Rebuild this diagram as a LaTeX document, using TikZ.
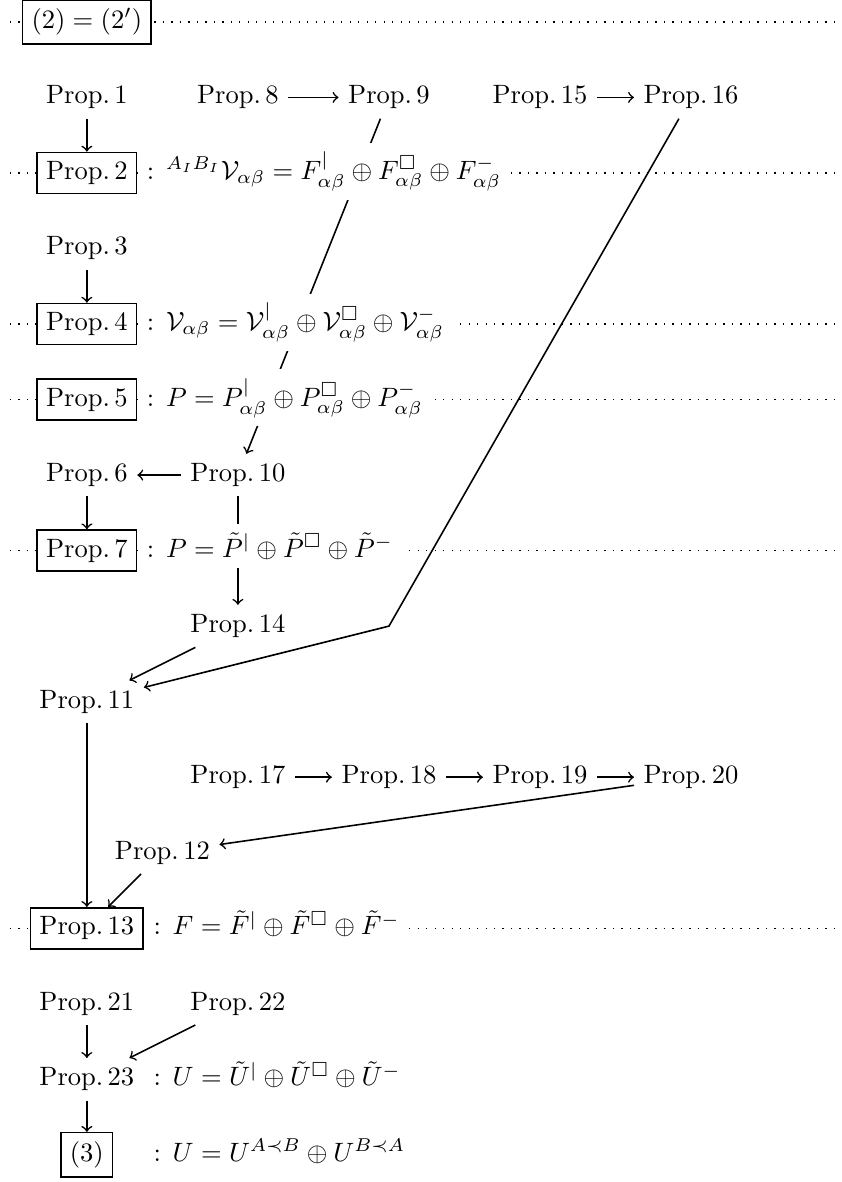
\documentclass[tikz,border=0pt]{standalone}
\usepackage{amsmath,amssymb}
\begin{document}
\begin{tikzpicture}[>=to,semithick,
    propbox/.style={draw,fill=white},
    formula/.style={anchor=base west,fill=white},
    dotline/.style={line width=0.5pt,dash pattern=on 0.5pt off 2.7pt}]
    \useasboundingbox (-1.15,0.29) rectangle (9.99,-15.36);
    % dotted rows
    \foreach \r in {0,2,4,5,7,12}
    {
        \draw[dotline](-1.02,-\r)--(9.99,-\r);
    }
    \node[propbox] (eq2) at (0,0) {$(2)=(2')$};
    \node (p1) at (0,-1) {Prop.\,1};
    \node (p8) at (2,-1) {Prop.\,8};
    \node (p9) at (4,-1) {Prop.\,9};
    \node (p15) at (6,-1) {Prop.\,15};
    \node (p16) at (8,-1) {Prop.\,16};
    \node[propbox] (p2) at (0,-2) {Prop.\,2};
    \node (p3) at (0,-3) {Prop.\,3};
    \node[propbox] (p4) at (0,-4) {Prop.\,4};
    \node[propbox] (p5) at (0,-5) {Prop.\,5};
    \node (p6) at (0,-6) {Prop.\,6};
    \node (p10) at (2,-6) {Prop.\,10};
    \node[propbox] (p7) at (0,-7) {Prop.\,7};
    \node (p14) at (2,-8) {Prop.\,14};
    \coordinate (kink) at (4,-8);
    \node (p11) at (0,-9) {Prop.\,11};
    \node (p17) at (2,-10) {Prop.\,17};
    \node (p18) at (4,-10) {Prop.\,18};
    \node (p19) at (6,-10) {Prop.\,19};
    \node (p20) at (8,-10) {Prop.\,20};
    \node (p12) at (1,-11) {Prop.\,12};
    \node[propbox] (p13) at (0,-12) {Prop.\,13};
    \node (p21) at (0,-13) {Prop.\,21};
    \node (p22) at (2,-13) {Prop.\,22};
    \node (p23) at (0,-14) {Prop.\,23};
    \node[propbox] (eq3) at (0,-15) {$(3)$};
    % these two run behind the formulas
    \draw[->](p9)--(p10);
    \draw[->](p10)--(p14);
    \node[formula] (f2) at (p2.base east) {: ${}^{A_I B_I}\mathcal{V}_{\alpha\beta}=F^{|}_{\alpha\beta}\oplus F^{\square}_{\alpha\beta}\oplus F^{-}_{\alpha\beta}$};
    \node[formula] (f4) at (p4.base east) {: $\mathcal{V}_{\alpha\beta}=\mathcal{V}^{|}_{\alpha\beta}\oplus\mathcal{V}^{\square}_{\alpha\beta}\oplus\mathcal{V}^{-}_{\alpha\beta}$};
    \node[formula] (f5) at (p5.base east) {: $P=P^{|}_{\alpha\beta}\oplus P^{\square}_{\alpha\beta}\oplus P^{-}_{\alpha\beta}$};
    \node[formula] (f7) at (p7.base east) {: $P=\tilde{P}^{|}\oplus\tilde{P}^{\square}\oplus\tilde{P}^{-}$};
    \node[formula] (f13) at (p13.base east) {: $F=\tilde{F}^{|}\oplus\tilde{F}^{\square}\oplus\tilde{F}^{-}$};
    \node[formula] (f23) at (p23.base east) {: $U=\tilde{U}^{|}\oplus\tilde{U}^{\square}\oplus\tilde{U}^{-}$};
    \node[formula] (f3) at (f23.base west|-eq3.base) {: $U=U^{A\prec B}\oplus U^{B\prec A}$};
    \draw[->](p1)--(p2);
    \draw[->](p8)--(p9);
    \draw[->](p15)--(p16);
    \draw[->](p3)--(p4);
    \draw[->](p10)--(p6);
    \draw[->](p6)--(p7);
    \draw[->](p14)--(p11);
    \draw[->](p16)--(kink)--(p11);
    \draw[->](p11)--(p13);
    \draw[->](p17)--(p18);
    \draw[->](p18)--(p19);
    \draw[->](p19)--(p20);
    \draw[->](p20)--(p12);
    \draw[->](p12)--(p13);
    \draw[->](p21)--(p23);
    \draw[->](p22)--(p23);
    \draw[->](p23)--(eq3);
\end{tikzpicture}
\end{document}
